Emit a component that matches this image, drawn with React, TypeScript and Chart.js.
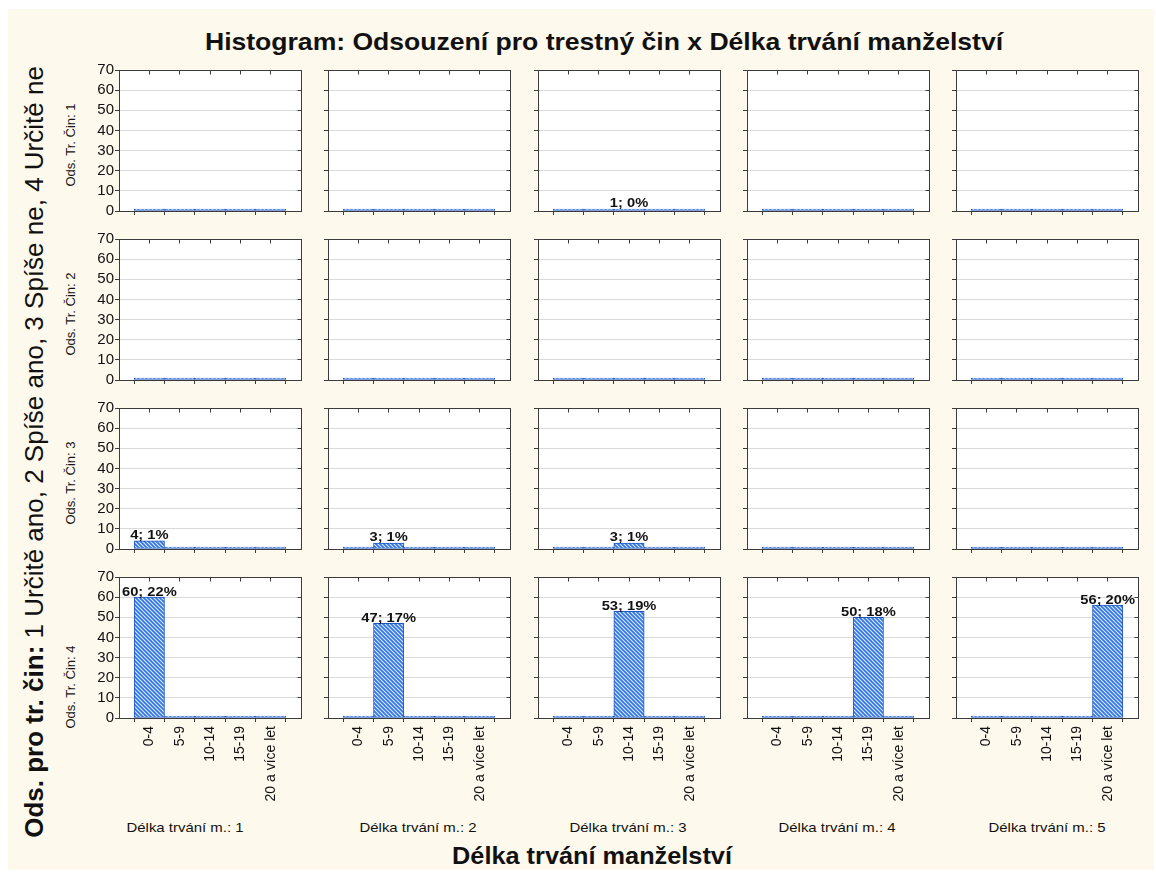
import React, { useEffect, useRef } from "react";
import { Chart, registerables } from "chart.js";

Chart.register(...registerables);

// ---------- data ----------
const chartTitle = "Histogram: Odsouzení pro trestný čin x Délka trvání manželství";
const xAxisTitle = "Délka trvání manželství";
const yAxisTitleBold = "Ods. pro tr. čin:";
const yAxisTitleRest = " 1 Určitě ano, 2 Spíše ano, 3 Spíše ne, 4 Určitě ne";

const categories = ["0-4", "5-9", "10-14", "15-19", "20 a více let"];
const columnTitles = [
  "Délka trvání m.: 1",
  "Délka trvání m.: 2",
  "Délka trvání m.: 3",
  "Délka trvání m.: 4",
  "Délka trvání m.: 5",
];
const rowTitles = ["Ods. Tr. Čin: 1", "Ods. Tr. Čin: 2", "Ods. Tr. Čin: 3", "Ods. Tr. Čin: 4"];
const yTickValues = [0, 10, 20, 30, 40, 50, 60, 70];

// counts per row (Ods. Tr. Čin) and column (Délka trvání m.)
const countsCin1 = [0, 0, 1, 0, 0];
const countsCin2 = [0, 0, 0, 0, 0];
const countsCin3 = [4, 3, 3, 0, 0];
const countsCin4 = [60, 47, 53, 50, 56];
// percentages as printed on the labels
const pctCin1 = [0, 0, 0, 0, 0];
const pctCin2 = [0, 0, 0, 0, 0];
const pctCin3 = [1, 1, 1, 0, 0];
const pctCin4 = [22, 17, 19, 18, 20];

const countRows = [countsCin1, countsCin2, countsCin3, countsCin4];
const pctRows = [pctCin1, pctCin2, pctCin3, pctCin4];

// ---------- layout ----------
const FONT = "'Liberation Sans', Arial, Helvetica, sans-serif";
const colLeft = [119, 328, 538, 747, 956];
const rowTop = [70, 239, 408, 577];
const PLOT_W = 182;
const PLOT_H = 141;
const colTitleCenters = [185, 418, 628, 837, 1047];
const rowTitleCenters = [145, 314, 483, 687];

function panelPad(r: number, c: number) {
  return {
    L: c === 0 ? 60 : 8,
    R: 8,
    T: 12,
    B: r === 3 ? 100 : 12,
  };
}

function makePattern(ctx: CanvasRenderingContext2D) {
  const c = document.createElement("canvas");
  c.width = 4;
  c.height = 4;
  const g = c.getContext("2d")!;
  g.fillStyle = "#d8e8fc";
  g.fillRect(0, 0, 4, 4);
  g.strokeStyle = "#2f74e4";
  g.lineWidth = 1.6;
  g.beginPath();
  g.moveTo(-1, -1);
  g.lineTo(5, 5);
  g.moveTo(-1, 3);
  g.lineTo(1, 5);
  g.moveTo(3, -1);
  g.lineTo(5, 1);
  g.stroke();
  return ctx.createPattern(c, "repeat");
}

const al = (v: number) => Math.round(v - 0.5) + 0.5;

const panelPlugin = {
  id: "panelDecor",
  beforeDraw(chart: any) {
    const { ctx, chartArea: a } = chart;
    ctx.save();
    ctx.fillStyle = "#ffffff";
    ctx.fillRect(a.left, a.top, a.right - a.left, a.bottom - a.top);
    ctx.restore();
  },
  beforeDatasetsDraw(chart: any) {
    const { ctx, chartArea: a, scales } = chart;
    ctx.save();
    ctx.strokeStyle = "#3c3c3c";
    ctx.lineWidth = 1;
    ctx.strokeRect(al(a.left), al(a.top), al(a.right) - al(a.left), al(a.bottom) - al(a.top));
    ctx.beginPath();
    categories.forEach((_, k) => {
      const px = al(scales.x.getPixelForValue(k));
      ctx.moveTo(px, al(a.top));
      ctx.lineTo(px, al(a.top) + 4);
    });
    yTickValues.forEach((v) => {
      const py = al(scales.y.getPixelForValue(v));
      ctx.moveTo(al(a.right), py);
      ctx.lineTo(al(a.right) - 4, py);
    });
    ctx.stroke();
    ctx.restore();
  },
  afterDatasetsDraw(chart: any) {
    const { ctx } = chart;
    const meta = chart.getDatasetMeta(0);
    const ds = chart.data.datasets[0];
    ctx.save();
    ctx.font = `bold 13px ${FONT}`;
    ctx.fillStyle = "#111";
    ctx.textAlign = "center";
    ctx.textBaseline = "alphabetic";
    meta.data.forEach((el: any, i: number) => {
      const pt = ds.data[i];
      if (!pt || pt.y <= 0) return;
      const text = `${pt.y}; ${ds.pct[i]}%`;
      ctx.save();
      ctx.translate(el.x, el.y - 1.5);
      ctx.scale(1.13, 1);
      ctx.fillText(text, 0, 0);
      ctx.restore();
    });
    ctx.restore();
  },
};

function Panel({ r, c }: { r: number; c: number }) {
  const ref = useRef<HTMLCanvasElement>(null);
  const p = panelPad(r, c);
  const width = PLOT_W + p.L + p.R;
  const height = PLOT_H + p.T + p.B;

  useEffect(() => {
    const canvas = ref.current!;
    const ctx = canvas.getContext("2d")!;
    const pattern = makePattern(ctx);
    const counts = countRows[r];
    const pcts = pctRows[r];
    const data = categories.map((_, k) => ({ x: k, y: k === c ? counts[c] : 0 }));
    const pct = categories.map((_, k) => (k === c ? pcts[c] : 0));
    const showX = r === 3;
    const showY = c === 0;
    const chart = new Chart(ctx, {
      type: "bar",
      data: {
        datasets: [
          {
            data,
            pct,
            backgroundColor: pattern,
            borderColor: "#1e56c4",
            borderWidth: 1,
            borderSkipped: false,
            barPercentage: 1,
            categoryPercentage: 1,
            minBarLength: 2,
          } as any,
        ],
      },
      options: {
        animation: false,
        responsive: false,
        maintainAspectRatio: false,
        events: [],
        layout: { padding: { top: p.T, right: p.R, left: 0, bottom: 0 } },
        plugins: { legend: { display: false }, tooltip: { enabled: false } },
        scales: {
          x: {
            type: "linear",
            min: -1,
            max: 5,
            offset: false,
            border: { display: false },
            grid: { drawOnChartArea: false, drawTicks: true, tickLength: 4, tickColor: "#3c3c3c" },
            afterBuildTicks: (s: any) => {
              s.ticks = categories.map((_, i) => ({ value: i }));
            },
            afterFit: (s: any) => {
              s.height = p.B;
            },
            ticks: {
              display: showX,
              autoSkip: false,
              minRotation: 90,
              maxRotation: 90,
              padding: 4,
              color: "#111",
              font: { family: FONT, size: 14 },
              callback: (v: any) => categories[v as number] ?? "",
            },
          },
          y: {
            min: 0,
            max: 70,
            border: { display: false },
            grid: { color: "#dadada", lineWidth: 1, drawTicks: true, tickLength: 4, tickColor: "#3c3c3c" },
            afterBuildTicks: (s: any) => {
              s.ticks = yTickValues.map((v) => ({ value: v }));
            },
            afterFit: (s: any) => {
              s.width = p.L;
            },
            ticks: {
              display: showY,
              autoSkip: false,
              stepSize: 10,
              padding: 1,
              color: "#111",
              font: { family: FONT, size: 15 },
            },
          },
        },
      } as any,
      plugins: [panelPlugin],
    });
    return () => chart.destroy();
  }, [r, c]);

  return (
    <canvas
      ref={ref}
      width={width}
      height={height}
      style={{ position: "absolute", left: colLeft[c] - p.L, top: rowTop[r] - p.T }}
    />
  );
}

export default function App() {
  const panels: React.ReactNode[] = [];
  for (let r = 0; r < 4; r++) {
    for (let c = 0; c < 5; c++) {
      panels.push(<Panel key={`${r}-${c}`} r={r} c={c} />);
    }
  }
  return (
    <div
      style={{
        position: "absolute",
        left: 0,
        top: 0,
        width: 1156,
        height: 872,
        background: "#ffffff",
        overflow: "hidden",
        fontFamily: FONT,
      }}
    >
      <div
        style={{ position: "absolute", left: 8, top: 9, width: 1146, height: 861, background: "#fef9ed" }}
      />
      <svg
        width={1156}
        height={872}
        style={{ position: "absolute", left: 0, top: 0 }}
        fontFamily={FONT}
      >
        <text
          transform="translate(604,50) scale(1.107,1)"
          textAnchor="middle"
          fontWeight="bold"
          fontSize={24}
          fill="#111"
        >
          {chartTitle}
        </text>
        <text
          transform="translate(592,864) scale(1.055,1)"
          textAnchor="middle"
          fontWeight="bold"
          fontSize={24}
          fill="#111"
        >
          {xAxisTitle}
        </text>
        {columnTitles.map((t, i) => (
          <text
            key={t}
            transform={`translate(${colTitleCenters[i]},832) scale(1.15,1)`}
            textAnchor="middle"
            fontSize={13}
            fill="#111"
          >
            {t}
          </text>
        ))}
        {rowTitles.map((t, i) => (
          <text
            key={t}
            transform={`translate(75,${rowTitleCenters[i]}) rotate(-90)`}
            textAnchor="middle"
            fontSize={13}
            fill="#111"
          >
            {t}
          </text>
        ))}
        <text transform="translate(43,452) rotate(-90)" textAnchor="middle" fontSize={26} fill="#111">
          <tspan fontWeight="bold">{yAxisTitleBold}</tspan>
          <tspan>{yAxisTitleRest}</tspan>
        </text>
      </svg>
      {panels}
    </div>
  );
}
